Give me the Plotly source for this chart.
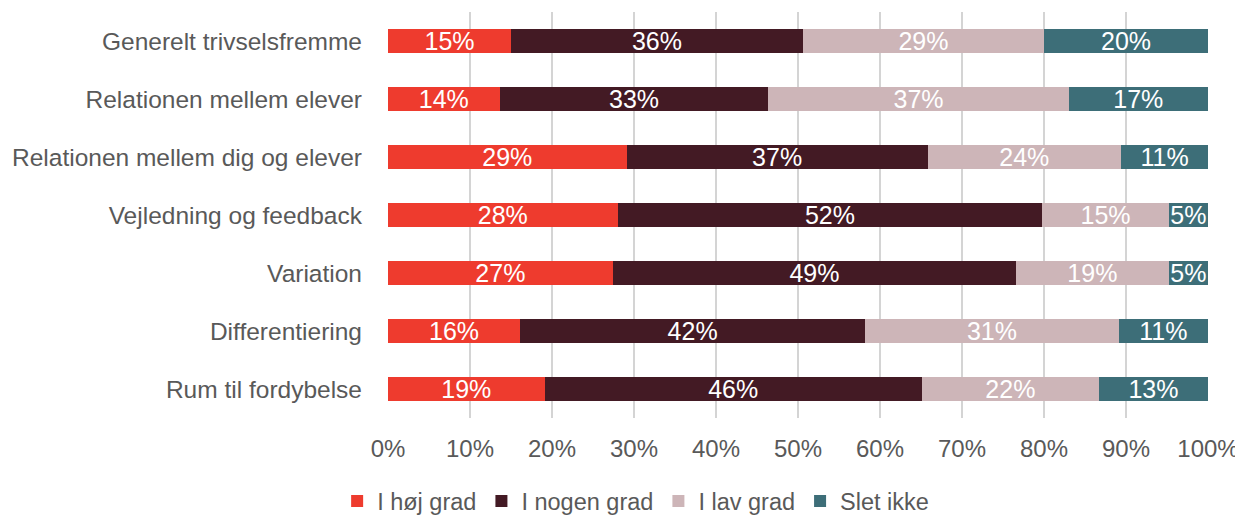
import plotly.graph_objects as go

categories = ['Generelt trivselsfremme', 'Relationen mellem elever',
              'Relationen mellem dig og elever', 'Vejledning og feedback',
              'Variation', 'Differentiering', 'Rum til fordybelse']

hoej_grad = [15.0, 13.6, 29.1, 28.0, 27.4, 16.1, 19.1]
nogen_grad = [35.6, 32.8, 36.7, 51.8, 49.2, 42.1, 46.0]
lav_grad = [29.4, 36.6, 23.6, 15.4, 18.6, 30.9, 21.6]
slet_ikke = [20.0, 17.0, 10.6, 4.8, 4.8, 10.9, 13.3]

series = [
    ('I høj grad', hoej_grad, '#EE3B2E'),
    ('I nogen grad', nogen_grad, '#431A24'),
    ('I lav grad', lav_grad, '#CDB5B8'),
    ('Slet ikke', slet_ikke, '#3D6E78'),
]

FONT = 'Liberation Sans'
GREY = '#595959'

fig = go.Figure()
for name, vals, color in series:
    fig.add_trace(go.Bar(
        y=categories, x=vals, name=name, orientation='h',
        marker=dict(color=color, line=dict(width=0)),
        texttemplate='%{x:.0f}%', textposition='inside',
        insidetextanchor='middle',
        textfont=dict(color='white', size=25, family=FONT),
    ))

# page body has an 8px margin, so the figure is a bit smaller than the window
fig.update_layout(
    barmode='stack',
    bargap=0.59,
    width=1235, height=507,
    margin=dict(l=380, r=35, t=4, b=97, autoexpand=False),
    plot_bgcolor='white', paper_bgcolor='white',
    font=dict(family=FONT, size=24, color=GREY),
    uniformtext=dict(minsize=25, mode='show'),
    legend=dict(orientation='h', x=0.302, xanchor='center', y=-0.205,
                yanchor='middle', font=dict(size=23.5, color=GREY),
                traceorder='normal'),
    showlegend=True,
)
fig.update_xaxes(range=[0, 100], dtick=10, ticksuffix='%',
                 showgrid=True, gridcolor='#d4d4d4', gridwidth=2,
                 zeroline=False, showline=False, ticks='',
                 ticklabelstandoff=14,
                 tickfont=dict(size=24, color=GREY))
fig.update_yaxes(autorange='reversed', showgrid=False, ticks='',
                 ticklabelstandoff=25,
                 tickfont=dict(size=24.5, color=GREY))

fig.write_html("out.html")
